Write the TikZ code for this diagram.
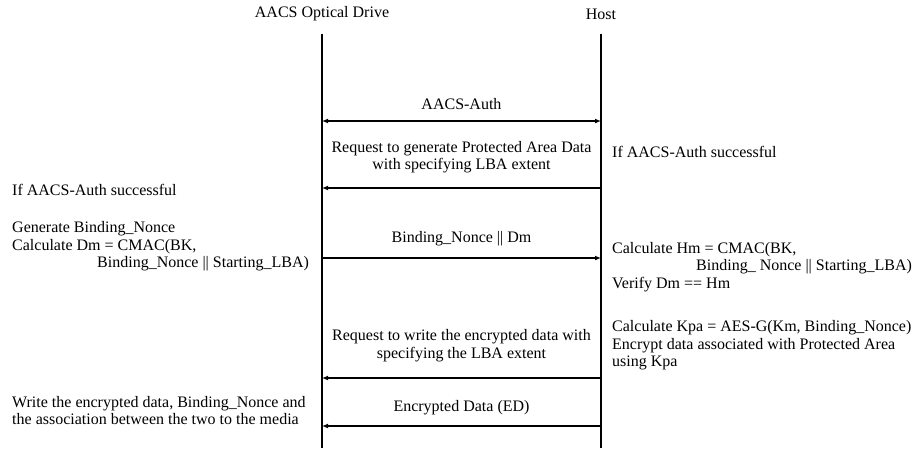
\documentclass[tikz,border=0pt]{standalone}
\usepackage{fontspec}
\setmainfont{Liberation Serif}
\usetikzlibrary{arrows.meta}

\begin{document}
\begin{tikzpicture}[x=1pt,y=-1pt,font=\fontsize{16}{17.5}\selectfont,
    tip/.style={Latex[length=6pt,width=5pt]},
    msg/.style={line width=1.2pt,-{Latex[length=6pt,width=5pt]}},
    life/.style={line width=2.5pt},
    lbl/.style={inner sep=0pt,align=center},
    note/.style={inner sep=0pt,align=left,anchor=west}]
        \useasboundingbox (0,0) rectangle (914,448);

          \node[lbl] (drive) at (322,14) {AACS Optical Drive};
          \node[lbl] (host) at (601,14) {Host};

          \coordinate (dtop) at (322,34);
          \coordinate (dbot) at (322,448);
          \coordinate (htop) at (601,34);
          \coordinate (hbot) at (601,448);
          \draw[life] (dtop) -- (dbot);
          \draw[life] (htop) -- (hbot);

          \foreach \n/\y in {auth/121,req/188,bind/258,wreq/378,ed/426}{
            \coordinate (d\n) at (322,\y);
            \coordinate (h\n) at (601,\y);
          }

          \draw[msg,{Latex[length=6pt,width=5pt]}-{Latex[length=6pt,width=5pt]}] (dauth) -- (hauth);
          \draw[msg] (hreq) -- (dreq);
          \draw[msg] (dbind) -- (hbind);
          \draw[msg] (hwreq) -- (dwreq);
          \draw[msg] (hed) -- (ded);

          \node[lbl] (lauth) at (461.5,104) {AACS-Auth};
          \node[lbl] (lreq) at (461.5,157) {Request to generate Protected Area Data\\with specifying LBA extent};
          \node[lbl] (lbind) at (461.5,239) {Binding\_Nonce || Dm};
          \node[lbl] (lwreq) at (461.5,345.5) {Request to write the encrypted data with\\specifying the LBA extent};
          \node[lbl] (led) at (461.5,408) {Encrypted Data (ED)};

          % drive side
          \node[note] (dok) at (12,190) {If AACS-Auth successful};
          \node[note] (dgen) at (12,246.5)
            {Generate Binding\_Nonce\\Calculate Dm = CMAC(BK,\\\hspace*{85pt}Binding\_Nonce || Starting\_LBA)};
          \node[note] (dwrite) at (12,410.5)
            {Write the encrypted data, Binding\_Nonce and\\the association between the two to the media};

          % host side
          \node[note] (hok) at (612,152) {If AACS-Auth successful};
          \node[note] (hcalc) at (612,267)
            {Calculate Hm = CMAC(BK,\\\hspace*{84pt}Binding\_ Nonce || Starting\_LBA)\\Verify Dm == Hm};
          \node[note] (hkpa) at (612,345.5)
            {Calculate Kpa = AES-G(Km, Binding\_Nonce)\\Encrypt data associated with Protected Area\\using Kpa};
        \end{tikzpicture}
\end{document}
